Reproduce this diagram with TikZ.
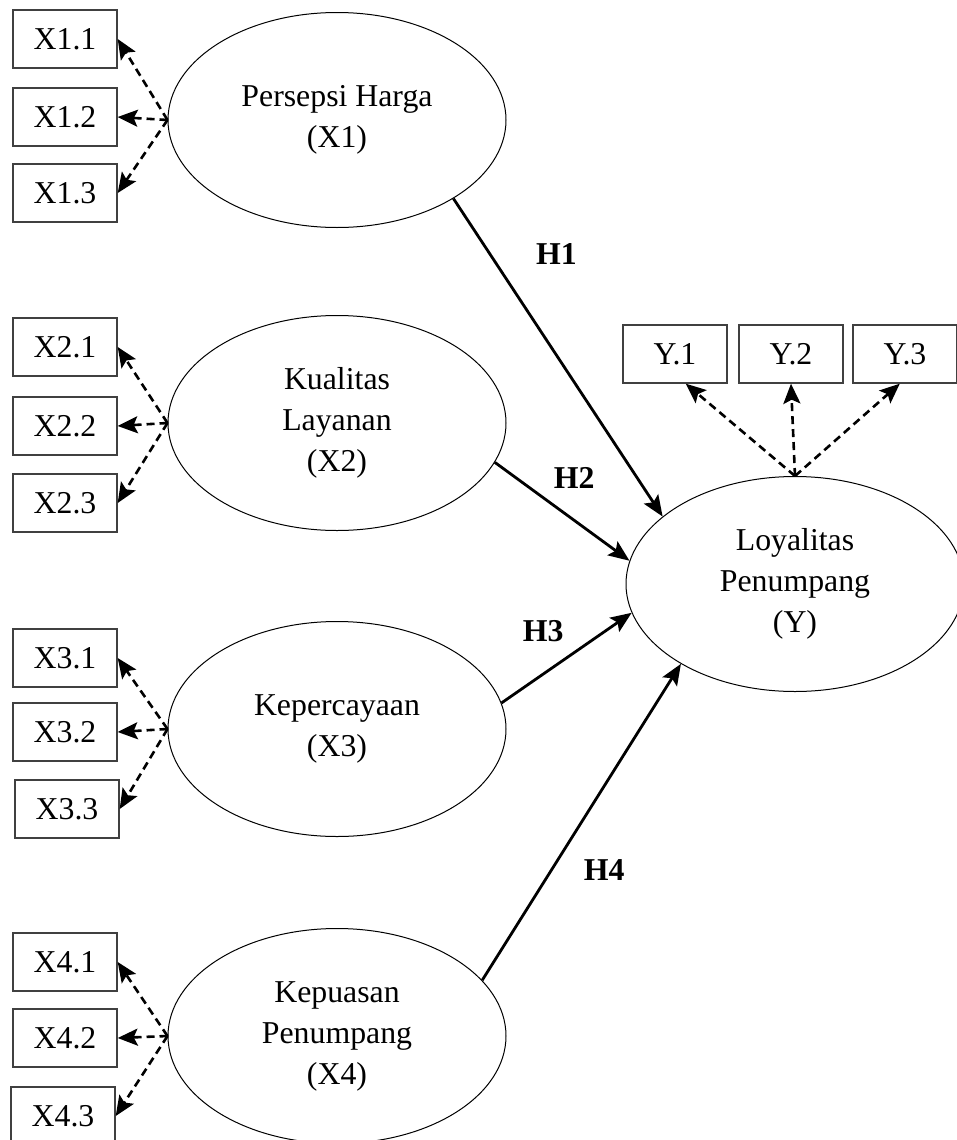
\documentclass[tikz,border=0pt]{standalone}
\usepackage{fontspec}
\setmainfont{Liberation Serif}
\usepackage{tikz}
\usetikzlibrary{shapes}
\usetikzlibrary{arrows.meta}

\begin{document}
\begin{tikzpicture}[x=0.5pt, y=-0.5pt,
		lat/.style={
			draw, ellipse,
			line width=0.5pt,
			minimum width=169pt,
			minimum height=107.5pt,
			inner sep=0pt,
			align=center,
			font=\fontsize{15.9}{20.5}\selectfont},
		ind/.style={
			draw=black!75, rectangle,
			line width=0.7pt,
			minimum width=52pt,
			minimum height=29pt,
			inner sep=0pt,
			font=\fontsize{15.9}{19}\selectfont},
		load/.style={-{Stealth[length=10pt,width=8.5pt,inset=2pt]}, dash pattern=on 4pt off 2.5pt, line width=1.3pt},
		reg/.style={-{Stealth[length=10.5pt,width=8.5pt,inset=2pt]}, line width=1.4pt},
		hyp/.style={font=\fontsize{15.9}{19}\selectfont\bfseries}
		]
		\useasboundingbox (0,0) rectangle (957,1140);
		\node [lat] (lx1) at (337, 120) {Persepsi Harga\\(X1)};
		\node [lat] (lx2) at (337, 423) {Kualitas\\Layanan\\(X2)};
		\node [lat] (lx3) at (337, 729) {Kepercayaan\\(X3)};
		\node [lat] (lx4) at (337, 1036) {Kepuasan\\Penumpang\\(X4)};
		\node [lat] (ly) at (795, 584) {Loyalitas\\Penumpang\\(Y)};
		\node [ind] (i11) at (65, 39) {X1.1};
		\node [ind] (i12) at (65, 117) {X1.2};
		\node [ind] (i13) at (65, 193) {X1.3};
		\node [ind] (i21) at (65, 347) {X2.1};
		\node [ind] (i22) at (65, 426) {X2.2};
		\node [ind] (i23) at (65, 503) {X2.3};
		\node [ind] (i31) at (65, 658) {X3.1};
		\node [ind] (i32) at (65, 732) {X3.2};
		\node [ind] (i33) at (67, 809) {X3.3};
		\node [ind] (i41) at (65, 962) {X4.1};
		\node [ind] (i42) at (65, 1038) {X4.2};
		\node [ind] (i43) at (63, 1116) {X4.3};
		\node [ind] (iy1) at (675, 354) {Y.1};
		\node [ind] (iy2) at (791, 354) {Y.2};
		\node [ind] (iy3) at (905, 354) {Y.3};
		\draw[load] (lx1.west) -- (i11.east);
		\draw[load] (lx1.west) -- (i12.east);
		\draw[load] (lx1.west) -- (i13.east);
		\draw[load] (lx2.west) -- (i21.east);
		\draw[load] (lx2.west) -- (i22.east);
		\draw[load] (lx2.west) -- (i23.east);
		\draw[load] (lx3.west) -- (i31.east);
		\draw[load] (lx3.west) -- (i32.east);
		\draw[load] (lx3.west) -- (i33.east);
		\draw[load] (lx4.west) -- (i41.east);
		\draw[load] (lx4.west) -- (i42.east);
		\draw[load] (lx4.west) -- (i43.east);
		\draw[load] (ly.north) -- (iy1.-70);
		\draw[load] (ly.north) -- (iy2.south);
		\draw[load] (ly.north) -- (iy3.-100);
		\draw[reg] (lx1.-34) to node[hyp, pos=0.175, right=19pt]{H1} (ly.153);
		\draw[reg] (lx2.-14) to node[hyp, pos=0.59, above=12pt]{H2} (ly.172);
		\draw[reg] (lx3.9) to node[hyp, pos=0.32, above=12pt]{H3} (ly.-170);
		\draw[reg] (lx4.21) to node[hyp, pos=0.35, right=12pt]{H4} (ly.215);
		\end{tikzpicture}
\end{document}
